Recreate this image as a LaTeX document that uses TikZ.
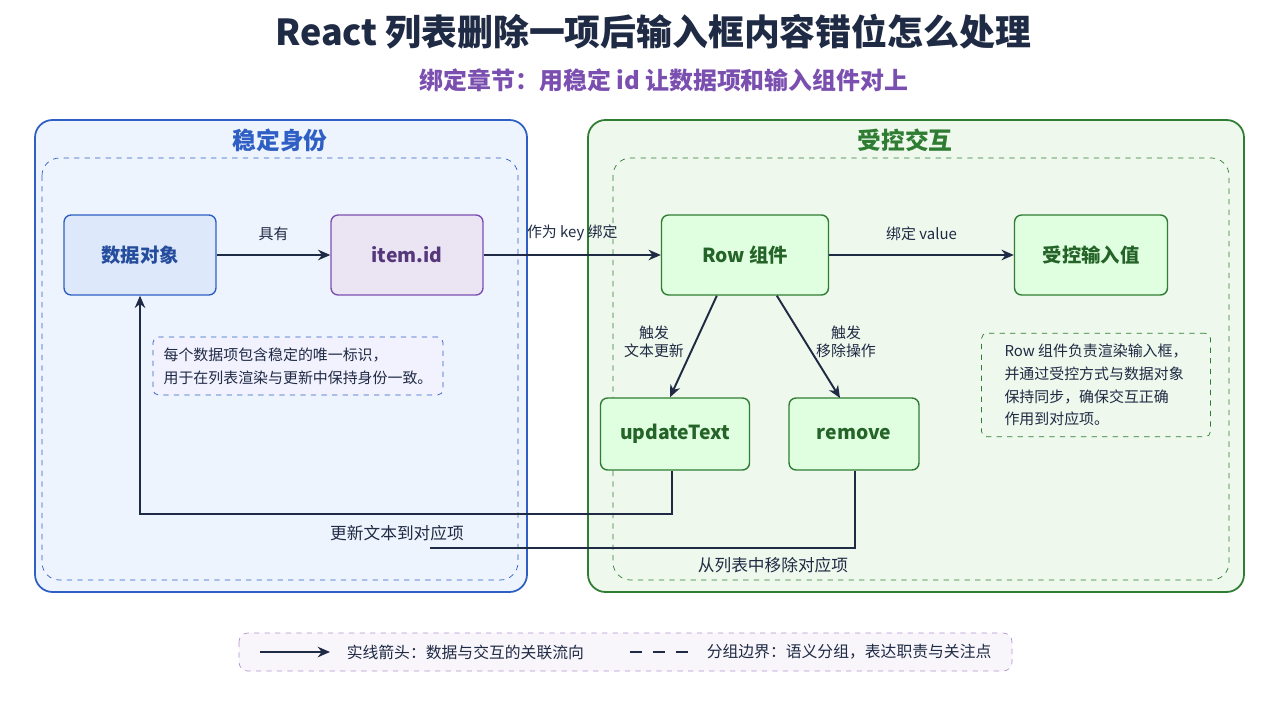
\documentclass[tikz,border=0pt]{standalone}
\usepackage{fontspec}
\setmainfont{Noto Sans CJK SC}
\usetikzlibrary{arrows.meta,positioning}
\definecolor{ink}{HTML}{1F2A44}
\definecolor{bluedk}{HTML}{2F5FC4}
\definecolor{bluefill}{HTML}{EEF4FD}
\definecolor{bluebg}{HTML}{DDE9FA}
\definecolor{greendk}{HTML}{2E7D32}
\definecolor{greenfill}{HTML}{EEF8EC}
\definecolor{purpdk}{HTML}{7B4FB0}
\tikzset{
  box/.style={draw, rounded corners=4pt, line width=0.8pt, minimum height=1.6cm, font=\bfseries\fontsize{11}{13}\selectfont},
  bluebox/.style={box, draw=bluedk, fill=bluebg, text=bluedk!80!black},
  purpbox/.style={box, draw=purpdk, fill=purpdk!15, text=purpdk!70!black},
  greenbox/.style={box, draw=greendk, fill=green!12, text=greendk!80!black},
  flow/.style={-{Stealth[length=7pt,width=6pt]}, line width=1.1pt, draw=ink},
  lbl/.style={font=\fontsize{8.5}{10}\selectfont, text=ink},
  note/.style={draw, dashed, rounded corners=3pt, align=left, font=\fontsize{8.5}{13}\selectfont, inner sep=6pt}
}
\begin{document}
\begin{tikzpicture}[x=0.02cm,y=-0.02cm]
    % canvas
    \useasboundingbox[fill=white] (0,0) rectangle (1280,702);

    % titles
    \node[font=\bfseries\fontsize{20.4}{24}\selectfont, text=ink] (title) at (653,32) {React 列表删除一项后输入框内容错位怎么处理};
    \node[font=\bfseries\fontsize{13.6}{16}\selectfont, text=purpdk] (subtitle) at (664,80) {绑定章节：用稳定 id 让数据项和输入组件对上};

    % groups
    \draw[bluedk, fill=bluefill, line width=1pt, rounded corners=10pt] (35,120) rectangle (527,592);
    \draw[bluedk, dashed, rounded corners=10pt] (42,158) rectangle (518,580);
    \node[font=\bfseries\fontsize{13.5}{16}\selectfont, text=bluedk] (leftTitle) at (280,140) {稳定身份};
    \draw[greendk, fill=greenfill, line width=1pt, rounded corners=10pt] (588,120) rectangle (1244,592);
    \draw[greendk, dashed, rounded corners=10pt] (613,158) rectangle (1229,580);
    \node[font=\bfseries\fontsize{13.5}{16}\selectfont, text=greendk] (rightTitle) at (905,140) {受控交互};

    % nodes
    \node[bluebox, minimum width=3.04cm] (data) at (140,255) {数据对象};
    \node[purpbox, minimum width=3.04cm] (itemid) at (407,255) {item.id};
    \node[greenbox, minimum width=3.34cm] (row) at (745,255) {Row 组件};
    \node[greenbox, minimum width=3.06cm] (value) at (1091,255) {受控输入值};
    \node[greenbox, minimum width=2.98cm, minimum height=1.44cm] (update) at (675,434) {updateText};
    \node[greenbox, minimum width=2.6cm, minimum height=1.44cm] (remove) at (854,434) {remove};

    % notes
    \node[note, draw=bluedk, fill=blue!5, text=ink, minimum width=5.48cm] (noteL) at (298,366) {每个数据项包含稳定的唯一标识，\\用于在列表渲染与更新中保持身份一致。};
    \node[note, draw=greendk, fill=greenfill, text=ink, minimum width=4.58cm, inner xsep=12pt] (noteR) at (1096,385) {Row 组件负责渲染输入框，\\并通过受控方式与数据对象\\保持同步，确保交互正确\\作用到对应项。};

    % connectors
    \draw[flow] (data) -- node[lbl, above=4pt] {具有} (itemid);
    \draw[flow] (itemid) -- node[lbl, above=4pt, pos=0.5] {作为 key 绑定} (row);
    \draw[flow] (row) -- node[lbl, above=4pt] {绑定 value} (value);
    \draw[flow] (row.south west)++(56,0) coordinate (rs1) -- (update.north -| 670,0) coordinate (ue);
    \node[lbl, align=center] (lblU) at (654,342) {触发\\文本更新};
    \draw[flow] (row.south west)++(116,0) coordinate (rs2) -- (840,398) coordinate (re);
    \node[lbl, align=center] (lblR) at (846,342) {触发\\移除操作};
    \coordinate (uOut) at (672,514);
    \draw[flow] (update.south -| 672,0) -- (uOut) -- (140,514) -- (data.south);
    \node[lbl, font=\fontsize{9.5}{11}\selectfont] (lblBack) at (397,533) {更新文本到对应项};
    \coordinate (rEnd) at (430,548);
    \draw[line width=1.1pt, ink] (remove.south -| 855,0) -- (855,548) -- (rEnd);
    \node[lbl, font=\fontsize{9.5}{11}\selectfont] (lblRm) at (773,565) {从列表中移除对应项};

    % legend
    \draw[purpdk!60, dashed, fill=purpdk!5, rounded corners=5pt] (239,633) rectangle (1012,671);
    \coordinate (la) at (260,652); \coordinate (lb) at (330,652);
    \draw[flow, line width=0.9pt] (la) -- (lb);
    \node[lbl, right=6pt of lb, font=\fontsize{9}{10}\selectfont] (legA) {实线箭头：数据与交互的关联流向};
    \coordinate (lc) at (630,652); \coordinate (ld) at (690,652);
    \draw[ink, line width=0.9pt, dash pattern=on 7pt off 6pt] (lc) -- (ld);
    \node[lbl, right=6pt of ld, font=\fontsize{9}{10}\selectfont] (legB) {分组边界：语义分组，表达职责与关注点};
\end{tikzpicture}
\end{document}
